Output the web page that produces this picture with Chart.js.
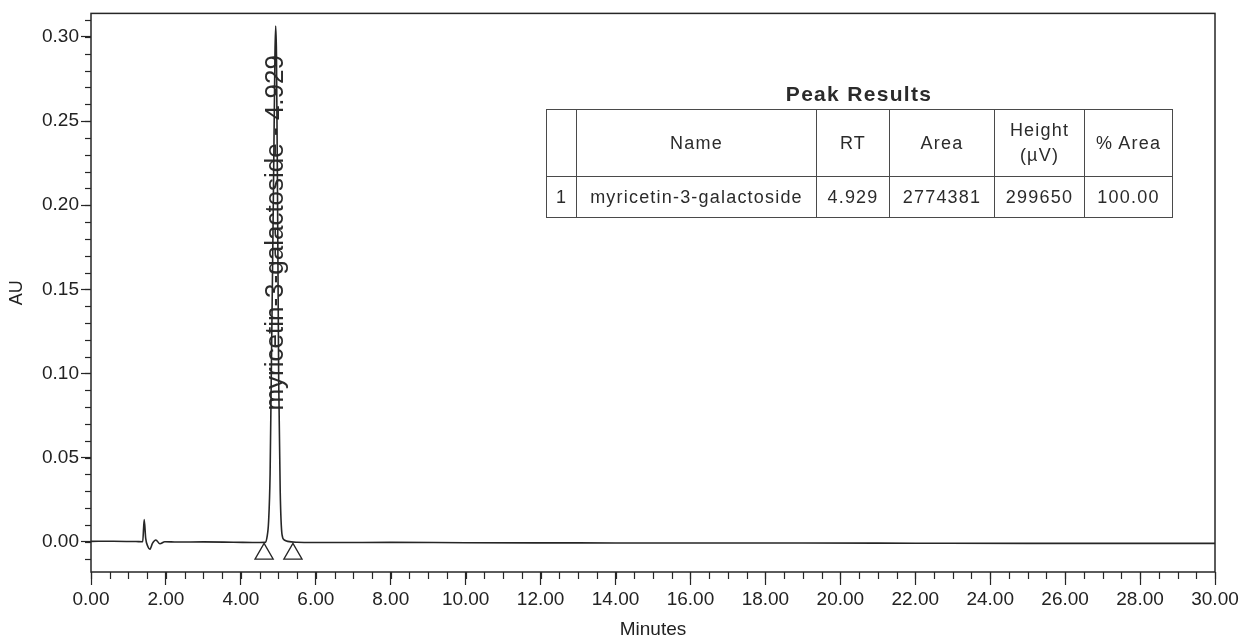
<!DOCTYPE html>
<html>
<head>
<meta charset="utf-8">
<script src="https://cdn.jsdelivr.net/npm/chart.js@4.4.1/dist/chart.umd.min.js"></script>
<style>
    body { margin: 0; background: #fff; }
    #wrap { position: relative; width: 1253px; height: 639px; font-family: "Liberation Sans", Arial, sans-serif; color: #2b2b2b; }
    #chromo { position: absolute; left: 0; top: 0; }
    #peakTitle { position: absolute; left: 546px; top: 82px; width: 626px; text-align: center; font-weight: bold; font-size: 21px; line-height: 24px; letter-spacing: 1.3px; color: #2b2b2b; }
    #peakTable { position: absolute; left: 546px; top: 109px; border-collapse: collapse; font-size: 18px; letter-spacing: 1.2px; color: #2b2b2b; }
    #peakTable td { border: 1.5px solid #4a4a4a; text-align: center; padding: 0; }
    #peakTable tr.head td { height: 66px; line-height: 25px; }
    #peakTable tr.row td { height: 40px; }
</style>
</head>
<body>
<div id="wrap">
    <canvas id="chromo" width="1253" height="639"></canvas>
    <div id="peakTitle">Peak Results</div>
    <table id="peakTable">
        <colgroup>
            <col style="width:30px"><col style="width:240px"><col style="width:73px">
            <col style="width:105px"><col style="width:90px"><col style="width:88px">
        </colgroup>
        <tr class="head"><td></td><td>Name</td><td>RT</td><td>Area</td><td>Height<br>(µV)</td><td>% Area</td></tr>
        <tr class="row"><td>1</td><td>myricetin-3-galactoside</td><td>4.929</td><td>2774381</td><td>299650</td><td>100.00</td></tr>
    </table>
</div>
<script>
const timeMin = [0, 0.6, 1.2, 1.38, 1.42, 1.46, 1.52, 1.57, 1.64, 1.73, 1.84, 1.97, 2.3, 3.0, 3.8, 4.5,
    4.65, 4.70, 4.74, 4.78, 4.81, 4.85, 4.88, 4.91, 4.929, 4.95, 4.98, 5.01, 5.05, 5.10, 5.16, 5.25,
    5.5, 6.5, 8, 10, 13, 16, 19, 22, 25, 28, 30];
const absAU = [0.0002, 0.0003, 0.0001, 0.0, 0.0132, 0.002, -0.003, -0.0045, -0.001, 0.001, -0.0012, 0.0, -0.0002, -0.0001, -0.0003, -0.0005,
    -0.0004, 0.003, 0.012, 0.04, 0.095, 0.17, 0.23, 0.29, 0.3065, 0.29, 0.2, 0.095, 0.03, 0.004, 0.001, 0.0002,
    -0.0003, -0.0005, -0.0004, -0.0006, -0.0007, -0.0008, -0.0008, -0.0009, -0.001, -0.001, -0.001];

// marcadores de início/fim do pico
const markerTimes = [4.62, 5.39];
const markerAU = [-0.0072, -0.0072];

const peakName = 'myricetin-3-galactoside';
const peakRT = 4.929;
const peakLabelAU = 0.1836;

const xTickLabels = [0, 2, 4, 6, 8, 10, 12, 14, 16, 18, 20, 22, 24, 26, 28, 30];
const yTickLabels = [0.00, 0.05, 0.10, 0.15, 0.20, 0.25, 0.30];
const xMinorStep = 0.5;
const yMinorStep = 0.01;

const FONT = "'Liberation Sans', Arial, sans-serif";
const INK = '#262626';

// ticks menores, moldura e rótulo do pico
const chromoDecor = {
    id: 'chromoDecor',
    beforeDatasetsDraw(chart) {
        const { ctx, chartArea, scales: { x, y } } = chart;
        ctx.save();
        ctx.strokeStyle = INK;
        ctx.lineWidth = 1.2;

        // ticks menores no eixo X
        for (let v = x.min; v <= x.max + 1e-9; v += xMinorStep) {
            const px = Math.round(x.getPixelForValue(v)) + 0.5;
            ctx.beginPath();
            ctx.moveTo(px, chartArea.bottom);
            ctx.lineTo(px, chartArea.bottom + 7);
            ctx.stroke();
        }
        // ticks menores no eixo Y
        for (let v = 0; v <= y.max + 1e-9; v += yMinorStep) {
            const py = Math.round(y.getPixelForValue(v)) + 0.5;
            ctx.beginPath();
            ctx.moveTo(chartArea.left - 6, py);
            ctx.lineTo(chartArea.left, py);
            ctx.stroke();
        }
        for (let v = -yMinorStep; v >= y.min; v -= yMinorStep) {
            const py = Math.round(y.getPixelForValue(v)) + 0.5;
            ctx.beginPath();
            ctx.moveTo(chartArea.left - 6, py);
            ctx.lineTo(chartArea.left, py);
            ctx.stroke();
        }

        // moldura da área do gráfico
        ctx.lineWidth = 1.5;
        ctx.strokeRect(chartArea.left, chartArea.top, chartArea.right - chartArea.left, chartArea.bottom - chartArea.top);

        // rótulo vertical do pico
        const lx = x.getPixelForValue(peakRT);
        const ly = y.getPixelForValue(peakLabelAU);
        ctx.translate(lx, ly);
        ctx.rotate(-Math.PI / 2);
        ctx.fillStyle = '#2b2b2b';
        ctx.font = '26px ' + FONT;
        ctx.textAlign = 'center';
        ctx.textBaseline = 'middle';
        ctx.fillText(peakName + ' - ' + peakRT.toFixed(3), 0, 0);
        ctx.restore();
    }
};

new Chart(document.getElementById('chromo'), {
    type: 'line',
    data: {
        datasets: [
            {
                data: timeMin.map((t, i) => ({ x: t, y: absAU[i] })),
                borderColor: INK,
                borderWidth: 1.6,
                pointRadius: 0,
                cubicInterpolationMode: 'monotone',
                fill: false
            },
            {
                data: markerTimes.map((t, i) => ({ x: t, y: markerAU[i] })),
                showLine: false,
                pointStyle: 'triangle',
                pointRadius: 10.5,
                pointBorderWidth: 1.3,
                pointBorderColor: INK,
                pointBackgroundColor: 'rgba(255,255,255,0)'
            }
        ]
    },
    options: {
        responsive: false,
        animation: false,
        events: [],
        layout: { padding: { top: 9, right: 38, left: 0, bottom: 0 } },
        plugins: { legend: { display: false }, tooltip: { enabled: false } },
        scales: {
            x: {
                type: 'linear',
                min: 0,
                max: 30,
                afterFit: s => { s.height = 67; },
                afterBuildTicks: s => { s.ticks = xTickLabels.map(v => ({ value: v })); },
                border: { display: false },
                grid: { drawOnChartArea: false, drawTicks: true, tickLength: 13, tickColor: INK, tickWidth: 1.2 },
                ticks: {
                    color: '#222',
                    padding: 3,
                    maxRotation: 0,
                    font: { family: FONT, size: 19 },
                    callback: v => v.toFixed(2)
                },
                title: {
                    display: true,
                    text: 'Minutes',
                    color: '#222',
                    font: { family: FONT, size: 19, lineHeight: 1 },
                    padding: { top: 0, bottom: 0 }
                }
            },
            y: {
                type: 'linear',
                min: -0.018,
                max: 0.314,
                afterFit: s => { s.width = 91; },
                afterBuildTicks: s => { s.ticks = yTickLabels.map(v => ({ value: v })); },
                border: { display: false },
                grid: { drawOnChartArea: false, drawTicks: true, tickLength: 10, tickColor: INK, tickWidth: 1.2 },
                ticks: {
                    color: '#222',
                    padding: 2,
                    font: { family: FONT, size: 19 },
                    callback: v => v.toFixed(2)
                },
                title: {
                    display: true,
                    text: 'AU',
                    color: '#222',
                    font: { family: FONT, size: 18, lineHeight: 1 },
                    padding: { top: 8, bottom: 0 }
                }
            }
        }
    },
    plugins: [chromoDecor]
});
</script>
</body>
</html>
